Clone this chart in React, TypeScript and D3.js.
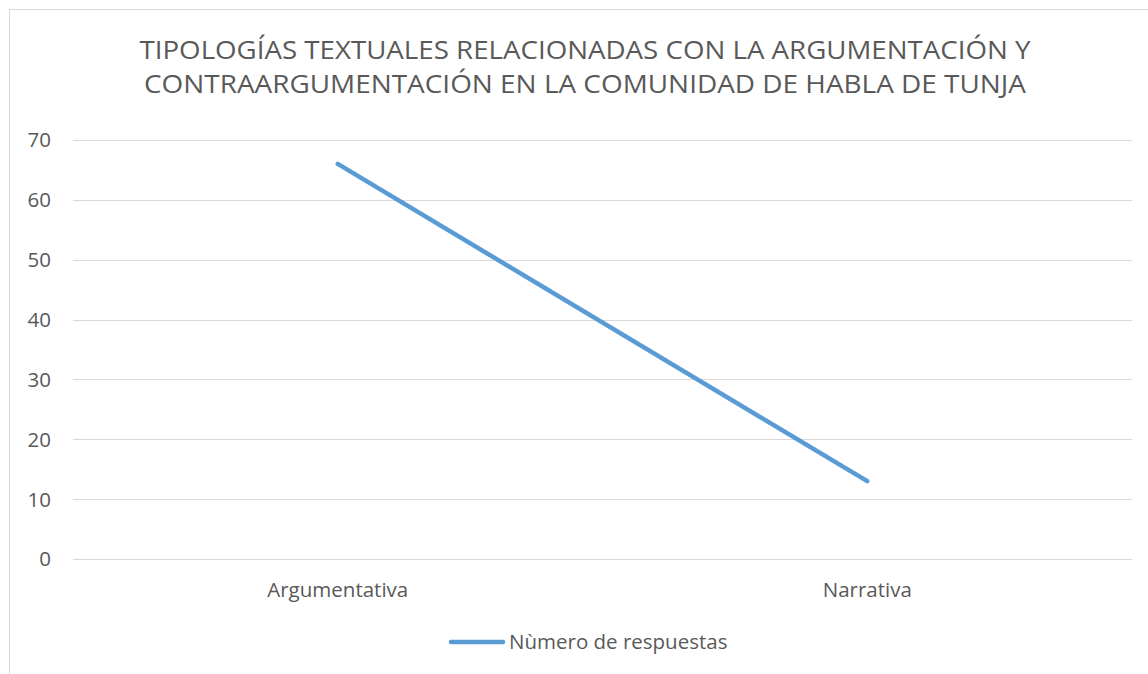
import React from 'react';
import * as d3 from 'd3';

const categories = ['Argumentativa', 'Narrativa'];
const respuestas = [66, 13];
const titleLines = [
  'TIPOLOGÍAS TEXTUALES RELACIONADAS CON LA ARGUMENTACIÓN Y',
  'CONTRAARGUMENTACIÓN EN LA COMUNIDAD DE HABLA DE TUNJA',
];
const seriesName = 'Nùmero de respuestas';
const yTicks = [0, 10, 20, 30, 40, 50, 60, 70];

const W = 1148;
const H = 674;
const font = '"Open Sans", "Noto Sans", sans-serif';
const textColor = '#595959';
const gridColor = '#D9D9D9';
const lineColor = '#5B9BD5';

const App = () => {
  const x = d3.scaleBand<string>().domain(categories).range([73, 1132]);
  const y = d3.scaleLinear().domain([0, 70]).range([559, 140]);
  const cx = (c: string) => (x(c) ?? 0) + x.bandwidth() / 2;

  const line = d3
    .line<number>()
    .x((_, i) => cx(categories[i]))
    .y((d) => y(d));

  return (
    <svg
      width={W}
      height={H}
      style={{ position: 'absolute', left: 0, top: 0, background: '#fff' }}
      fontFamily={font}
    >
      {/* chart area border, runs off the right and bottom edges */}
      <rect x={9.5} y={9.5} width={1160} height={700} fill="#fff" stroke={gridColor} strokeWidth={1} />

      {titleLines.map((t, i) => (
        <text
          key={i}
          x={585}
          y={59 + i * 34}
          textAnchor="middle"
          fontSize={26}
          fill={textColor}
          textLength={i === 0 ? 891 : 882}
          lengthAdjust="spacingAndGlyphs"
        >
          {t}
        </text>
      ))}

      {yTicks.map((t) => (
        <g key={t}>
          <line x1={73} x2={1132} y1={Math.round(y(t)) + 0.5} y2={Math.round(y(t)) + 0.5} stroke={gridColor} strokeWidth={1} />
          <text x={51} y={y(t)} dy="0.36em" textAnchor="end" fontSize={20.5} fill={textColor}>
            {t}
          </text>
        </g>
      ))}

      {categories.map((c) => (
        <text key={c} x={cx(c)} y={597} textAnchor="middle" fontSize={20.5} fill={textColor}>
          {c}
        </text>
      ))}

      <path
        d={line(respuestas) ?? ''}
        fill="none"
        stroke={lineColor}
        strokeWidth={4.5}
        strokeLinecap="round"
        strokeLinejoin="round"
      />

      <g>
        <line x1={451} x2={503} y1={642} y2={642} stroke={lineColor} strokeWidth={4.5} strokeLinecap="round" />
        <text x={509} y={649} fontSize={20.5} fill={textColor}>
          {seriesName}
        </text>
      </g>
    </svg>
  );
};

export default App;
